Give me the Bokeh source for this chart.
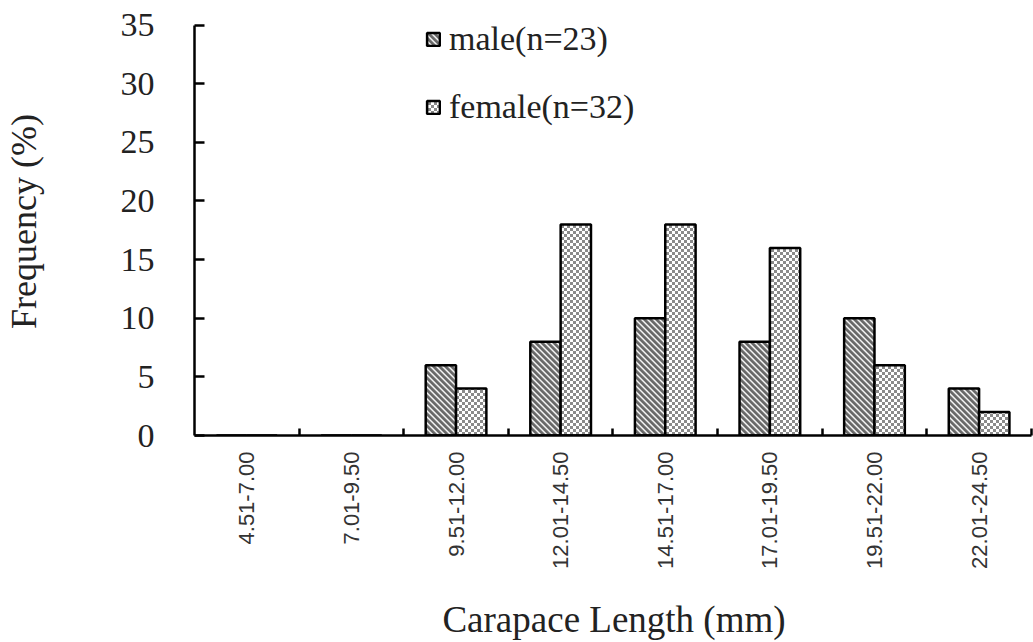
import base64
import struct
import zlib

import numpy as np
from bokeh.plotting import figure
from bokeh.models import (ColumnDataSource, Range1d, FixedTicker, Legend, LegendItem,
                          ImageURLTexture)
from bokeh.core.properties import value
from bokeh.transform import dodge
from bokeh.embed import file_html
from bokeh.resources import INLINE

categories = ["4.51-7.00", "7.01-9.50", "9.51-12.00", "12.01-14.50",
              "14.51-17.00", "17.01-19.50", "19.51-22.00", "22.01-24.50"]
male = [0, 0, 6, 8, 10, 8, 10, 4]
female = [0, 0, 4, 18, 18, 16, 6, 2]
y_ticks = [0, 5, 10, 15, 20, 25, 30, 35]

centers = [i + 0.5 for i in range(len(categories))]
bounds = [i for i in range(1, len(categories) + 1)]
src = ColumnDataSource(dict(x=centers, male=male, female=female))


def png_uri(size, pixel):
    rows = []
    for yy in range(size):
        row = bytearray()
        for xx in range(size):
            row += bytes(pixel(xx, yy))
        rows.append(b"\x00" + bytes(row))
    raw = b"".join(rows)

    def chunk(t, d):
        c = struct.pack(">I", len(d)) + t + d
        return c + struct.pack(">I", zlib.crc32(t + d) & 0xffffffff)

    data = (b"\x89PNG\r\n\x1a\n"
            + chunk(b"IHDR", struct.pack(">IIBBBBB", size, size, 8, 2, 0, 0, 0))
            + chunk(b"IDAT", zlib.compress(raw))
            + chunk(b"IEND", b""))
    return "data:image/png;base64," + base64.b64encode(data).decode()


def checker_px(x, y):
    return (138, 138, 138) if ((x // 3) + (y // 3)) % 2 == 0 else (255, 255, 255)


def stripe_px(x, y):
    k = (x - y) % 6
    return {0: (104, 104, 104), 1: (104, 104, 104), 2: (110, 110, 110),
            3: (170, 170, 170), 4: (245, 245, 245), 5: (190, 190, 190)}[k]


checker = ImageURLTexture(url=png_uri(6, checker_px))
stripes = ImageURLTexture(url=png_uri(6, stripe_px))

W, H = 1033, 642
p = figure(width=W, height=H, output_backend="svg", toolbar_location=None,
           x_range=Range1d(0, 8.02), y_range=Range1d(0, 36.5),
           min_border_left=191, min_border_right=0, min_border_top=7,
           min_border_bottom=206)
p.outline_line_color = None
p.xgrid.visible = False
p.ygrid.visible = False
p.background_fill_color = "white"
p.border_fill_color = "white"

bw = 0.29
r_m = p.vbar(x=dodge("x", -bw / 2, range=p.x_range), top="male", width=bw, source=src,
             fill_color="#8c8c8c", line_color="black", line_width=2.5,
             hatch_pattern=value("stripes"), hatch_extra={"stripes": stripes},
             hatch_color="#6a6a6a", hatch_scale=6)
r_f = p.vbar(x=dodge("x", bw / 2, range=p.x_range), top="female", width=bw, source=src,
             fill_color="#c4c4c4", line_color="black", line_width=2.5,
             hatch_pattern=value("checker"), hatch_extra={"checker": checker},
             hatch_color="#8a8a8a", hatch_scale=6)

serif = "Liberation Serif"

xa = p.xaxis[0]
xa.ticker = FixedTicker(ticks=centers, minor_ticks=bounds)
xa.bounds = (0, 8)
xa.major_label_overrides = {c: lab for c, lab in zip(centers, categories)}
xa.major_label_orientation = np.pi / 2
xa.major_label_text_font = "Liberation Sans"
xa.major_label_text_font_size = "22px"
xa.major_label_text_color = "#333333"
xa.major_label_standoff = 16
xa.major_tick_in = 0
xa.major_tick_out = 0
xa.minor_tick_in = 7
xa.minor_tick_out = 0
xa.minor_tick_line_width = 2.5
xa.minor_tick_line_color = "black"
xa.axis_line_width = 2.5
xa.axis_line_color = "black"
xa.axis_label = "Carapace Length (mm)"
xa.axis_label_text_font = serif
xa.axis_label_text_font_size = "37px"
xa.axis_label_text_font_style = "normal"
xa.axis_label_text_color = "#222222"
xa.axis_label_standoff = 27

ya = p.yaxis[0]
ya.ticker = FixedTicker(ticks=y_ticks, minor_ticks=[])
ya.bounds = (0, 35)
ya.major_label_text_font = serif
ya.major_label_text_font_size = "34px"
ya.major_label_text_color = "#222222"
ya.major_label_standoff = 40
ya.major_tick_in = 10
ya.major_tick_out = 0
ya.major_tick_line_width = 2.5
ya.major_tick_line_color = "black"
ya.axis_line_width = 2.5
ya.axis_line_color = "black"
ya.axis_label = "Frequency (%)"
ya.axis_label_text_font = serif
ya.axis_label_text_font_size = "36px"
ya.axis_label_text_font_style = "normal"
ya.axis_label_text_color = "#222222"
ya.axis_label_standoff = 74

legend = Legend(items=[LegendItem(label="male(n=23)", renderers=[r_m]),
                       LegendItem(label="female(n=32)", renderers=[r_f])],
                location=(231, 308), orientation="vertical",
                glyph_width=16, glyph_height=16, label_height=40, spacing=28,
                label_standoff=8, padding=0, margin=0,
                label_text_font=serif, label_text_font_size="34px",
                label_text_color="#222222",
                border_line_alpha=0, background_fill_alpha=0)
p.add_layout(legend)

open("out.html", "w").write(file_html(p, INLINE))
